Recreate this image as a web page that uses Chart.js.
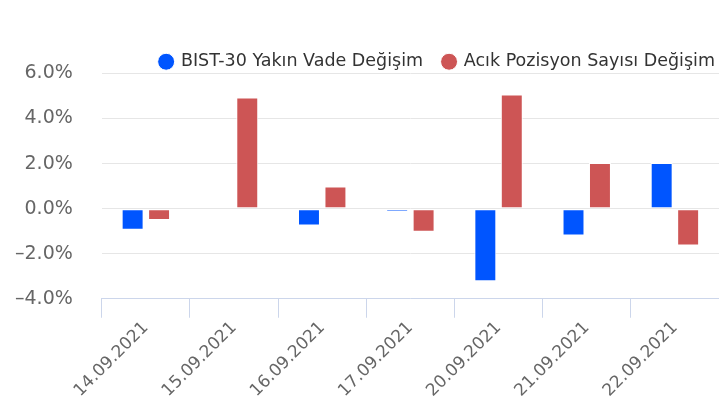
<!DOCTYPE html>
<html>
<head>
<meta charset="utf-8">
<script src="https://cdn.jsdelivr.net/npm/chart.js@4/dist/chart.umd.min.js"></script>
<style>
    html, body { margin: 0; padding: 0; background: #fff; }
    #wrap { width: 719px; height: 405px; position: relative; }
</style>
</head>
<body>
<div id="wrap"><canvas id="chart"></canvas></div>
<script>
// Data
const dates = ['14.09.2021', '15.09.2021', '16.09.2021', '17.09.2021', '20.09.2021', '21.09.2021', '22.09.2021'];
const bistChange = [-0.94, 0.0, -0.75, -0.14, -3.22, -1.19, 2.03];
const openPosChange = [-0.5, 4.93, 0.98, -1.03, 5.07, 2.03, -1.64];
const seriesNames = ['BIST-30 Yakın Vade Değişim', 'Acık Pozisyon Sayısı Değişim'];

const fontFamily = "'DejaVu Sans', Verdana, sans-serif";

// nudge the legend a little lower and further right
const legendShift = {
    id: 'legendShift',
    afterLayout(chart) {
        if (!chart.legend) return;
        chart.legend.top += 7;
        chart.legend.right += 16;
    }
};

document.addEventListener('DOMContentLoaded', () => {
    const ctx = document.getElementById('chart').getContext('2d');

    new Chart(ctx, {
        type: 'bar',
        data: {
            labels: dates,
            datasets: [
                {
                    label: seriesNames[0],
                    data: bistChange,
                    backgroundColor: '#0055ff',
                    borderColor: '#ffffff',
                    borderWidth: 1,
                    borderSkipped: false
                },
                {
                    label: seriesNames[1],
                    data: openPosChange,
                    backgroundColor: '#cd5555',
                    borderColor: '#ffffff',
                    borderWidth: 1,
                    borderSkipped: false
                }
            ]
        },
        options: {
            responsive: true,
            maintainAspectRatio: false,
            animation: false,
            datasets: {
                bar: { categoryPercentage: 0.6, barPercentage: 0.83 }
            },
            layout: {
                padding: { top: 26, left: 15, right: 0, bottom: 4 }
            },
            plugins: {
                tooltip: { enabled: false },
                legend: {
                    position: 'top',
                    align: 'end',
                    labels: {
                        usePointStyle: true,
                        pointStyle: 'circle',
                        boxWidth: 12,
                        boxHeight: 12,
                        padding: 20,
                        color: '#333333',
                        font: { family: fontFamily, size: 17.5 }
                    }
                }
            },
            scales: {
                x: {
                    grid: {
                        display: true,
                        drawOnChartArea: false,
                        drawTicks: true,
                        tickLength: 19,
                        color: '#ccd6eb',
                        offset: true
                    },
                    border: { display: true, color: '#ccd6eb' },
                    ticks: {
                        minRotation: 45,
                        maxRotation: 45,
                        padding: 0,
                        color: '#666666',
                        font: { family: fontFamily, size: 17 }
                    },
                    // let the first rotated label hang under the y axis labels
                    afterFit: (scale) => { scale.paddingLeft = 0; }
                },
                y: {
                    min: -4,
                    max: 6,
                    grid: {
                        color: '#e6e6e6',
                        drawTicks: false
                    },
                    border: { display: false },
                    ticks: {
                        stepSize: 2,
                        padding: 29,
                        color: '#666666',
                        font: { family: fontFamily, size: 19 },
                        callback: (v) => v.toFixed(1).replace('-', '–') + '%'
                    },
                    // tick padding is counted twice by default, drop the outer half
                    afterFit: (scale) => { scale.width -= 29; }
                }
            }
        },
        plugins: [legendShift]
    });
});
</script>
</body>
</html>
